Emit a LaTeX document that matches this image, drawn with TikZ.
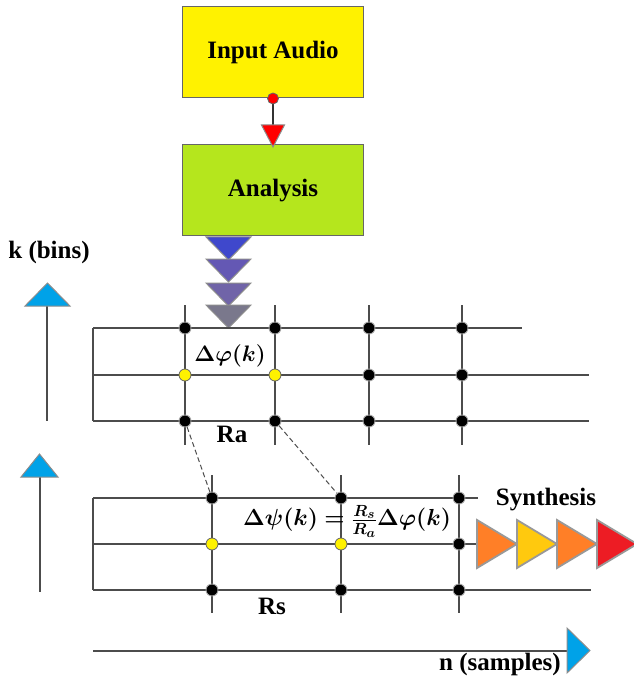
\documentclass[tikz,border=0pt]{standalone}
\usepackage[no-math]{fontspec}
\setmainfont{Liberation Serif}
\usepackage{amsmath,bm,graphicx}
\definecolor{inyellow}{RGB}{255,242,0}
\definecolor{angreen}{RGB}{181,230,29}
\definecolor{axblue}{RGB}{0,162,232}
\definecolor{tb1}{RGB}{63,72,204}
\definecolor{tb2}{RGB}{100,88,180}
\definecolor{tb3}{RGB}{112,100,168}
\definecolor{tb4}{RGB}{122,120,140}
\definecolor{so}{RGB}{255,127,39}
\definecolor{sy}{RGB}{255,201,14}
\definecolor{sr}{RGB}{237,28,36}
\begin{document}
\begin{tikzpicture}[x=1pt,y=-1pt,
  box/.style={draw=black!60, line width=1pt, minimum width=181pt, minimum height=91pt, font=\fontsize{25}{29}\selectfont\bfseries},
  gl/.style={draw=black!70, line width=1.3pt},
  bdot/.style={circle, fill=black, draw=black!35, line width=0.9pt, inner sep=0pt, minimum size=12pt},
  ydot/.style={circle, fill=yellow, draw=black!60, line width=0.8pt, inner sep=0pt, minimum size=12pt},
  lab/.style={font=\fontsize{25}{29}\selectfont\bfseries, inner sep=0pt},
  mlab/.style={font=\fontsize{20.74}{25}\selectfont, inner sep=0pt},
  tri/.style={draw=black!45, line width=1pt},
  stri/.style={draw=black!40, line width=1.8pt},
  dline/.style={draw=black!70, line width=1pt, dash pattern=on 5pt off 3pt}
]
\useasboundingbox (0,0) rectangle (633,684);

% boxes
\node[box, fill=inyellow] (input) at (273,52.5) {Input Audio};
\node[box, fill=angreen] (analysis) at (273,190.5) {Analysis};

% connector
\coordinate (rtop) at (273,125);
\draw[black!80, line width=1.2pt] (input.south) -- (rtop);
\draw[tri, fill=red] (261.5,125) -- (284.5,125) -- (273,147) -- cycle;
\node[circle, fill=red, draw=black!60, line width=0.8pt, minimum size=11pt, inner sep=0pt] (rc) at (input.south) {};

% blue analysis triangles
\foreach \t/\c in {237/tb1, 259/tb2, 283/tb3, 305/tb4}{
  \draw[tri, fill=\c] (206,\t) -- (251,\t) -- (228.5,\t+23) -- cycle;
}

% left axes
\draw[black!70, line width=1.3pt] (47,306) -- (47,421);
\draw[tri, fill=axblue] (25,306) -- (70,306) -- (47.5,283) -- cycle;
\draw[black!70, line width=1.3pt] (40,477) -- (40,592);
\draw[tri, fill=axblue] (21,477) -- (58,477) -- (39.5,454) -- cycle;

% bottom axis
\draw[black!70, line width=1.3pt] (93,651) -- (567,651);
\draw[tri, fill=axblue] (567,628) -- (567,673) -- (590,650.5) -- cycle;

% top grid
\draw[gl] (93,328) -- (522,328);
\draw[gl] (93,375) -- (589,375);
\draw[gl] (93,421) -- (589,421);
\draw[gl] (93,328) -- (93,421);
\foreach \x in {185,275,369,462}{ \draw[gl] (\x,305) -- (\x,445); }

\foreach \x [count=\i] in {185,275,369,462}{
  \node[bdot] (a1\i) at (\x,328) {};
  \node[bdot] (a3\i) at (\x,421) {};
}
\node[ydot] (a21) at (185,375) {};
\node[ydot] (a22) at (275,375) {};
\node[bdot] (a23) at (369,375) {};
\node[bdot] (a24) at (462,375) {};

% lower grid
\draw[gl] (93,498) -- (478,498);
\draw[gl] (93,544) -- (478,544);
\draw[gl] (93,590) -- (591,590);
\draw[gl] (93,498) -- (93,590);
\foreach \x in {212,341,459}{ \draw[gl] (\x,475) -- (\x,613); }

\foreach \x [count=\i] in {212,341,459}{
  \node[bdot] (b1\i) at (\x,498) {};
  \node[bdot] (b3\i) at (\x,590) {};
}
\node[ydot] (b21) at (212,544) {};
\node[ydot] (b22) at (341,544) {};
\node[bdot] (b23) at (459,544) {};

% dashed mapping
\draw[dline] (a31) -- (b11);
\draw[dline] (a32) -- (b12);

% synthesis triangles
\draw[stri, fill=so] (477,520) -- (477,568) -- (517,544) -- cycle;
\draw[stri, fill=sy] (517,520) -- (517,568) -- (557,544) -- cycle;
\draw[stri, fill=so] (557,520) -- (557,568) -- (597,544) -- cycle;
\draw[stri, fill=sr] (597,520) -- (597,568) -- (637,544) -- cycle;

% labels
\node[lab] (kbins) at (49,252) {k (bins)};
\node[mlab] (dphi) at (230,356) {\scalebox{1.08}{$\bm{\Delta\varphi(k)}$}};
\node[lab] (ra) at (232,434) {Ra};
\node[mlab] (form) at (347,521) {\scalebox{1.12}{$\bm{\Delta\psi(k)=\frac{R_s}{R_a}\Delta\varphi(k)}$}};
\node[lab] (rs) at (272,606) {Rs};
\node[lab] (synth) at (546,500) {Synthesis};
\node[lab] (nsamp) at (500,664) {n (samples)};
\end{tikzpicture}
\end{document}
